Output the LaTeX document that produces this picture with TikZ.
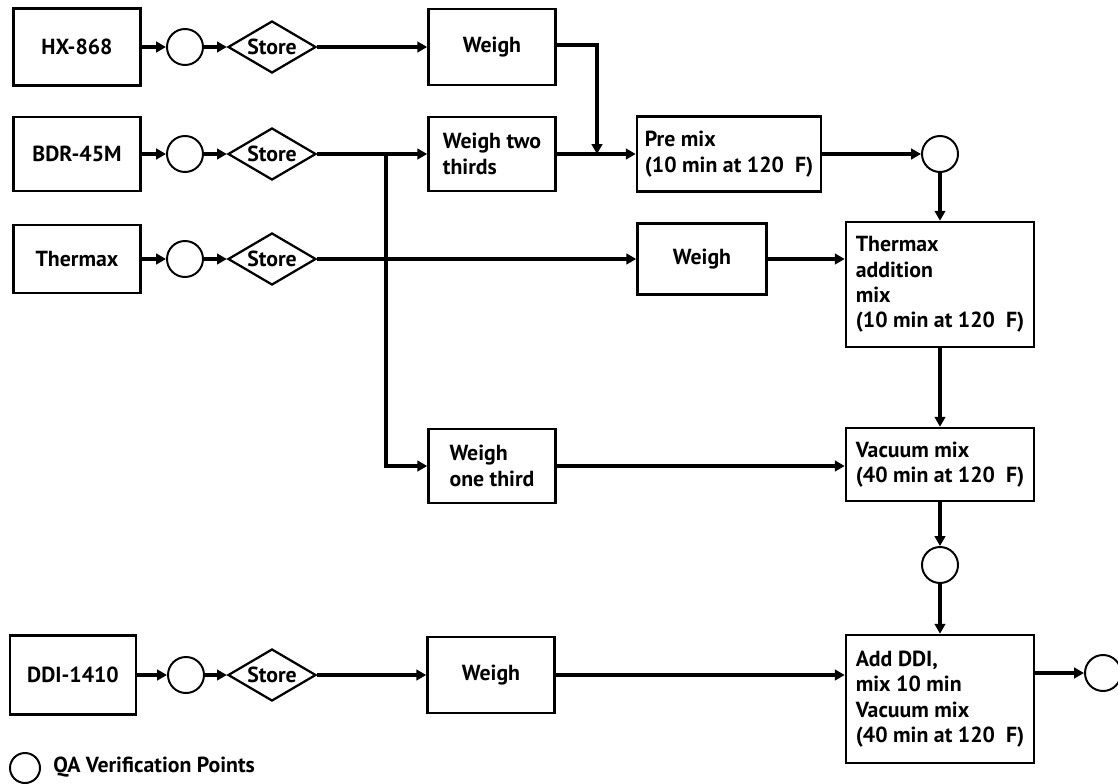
\documentclass[tikz,border=0pt]{standalone}
\usepackage{fontspec}
\setmainfont{PT Sans}
\usetikzlibrary{arrows.meta,shapes.geometric,calc}

\tikzset{
  lbl/.style={font=\fontsize{15.5}{18.1}\selectfont\bfseries},
  box/.style={lbl,draw,line width=1.8pt,inner sep=0pt,align=left},
  src/.style={box,minimum width=3.175cm},
  wgh/.style={box,minimum width=3.175cm},
  mix/.style={box,minimum width=4.7cm},
  qa/.style={circle,draw,line width=1.4pt,minimum size=0.9cm,inner sep=0pt},
  store/.style={lbl,diamond,draw,line width=1.6pt,minimum width=2.2cm,minimum height=1.3cm,inner sep=0pt,aspect=1.7},
  flow/.style={line width=2.7pt,-{Triangle[length=7pt,width=7.5pt]}}
}

\begin{document}
\begin{tikzpicture}[x=0.025cm,y=-0.025cm]
\useasboundingbox (0,0) rectangle (1118,783);

\node[src,minimum height=1.925cm] (hx) at (77,47) {HX-868};
\node[src,minimum height=1.85cm] (bdr) at (77,154) {BDR-45M};
\node[src,minimum height=1.7cm] (thx) at (77,259) {Thermax};
\node[src,minimum height=1.975cm,minimum width=3.15cm] (ddi) at (73,675) {DDI-1410};

\node[qa] (qa1) at (185,47) {};
\node[qa] (qa2) at (185,154) {};
\node[qa] (qa3) at (185,259) {};
\node[qa] (qa4) at (186,675) {};

\node[store] (st1) at (272,47) {Store};
\node[store] (st2) at (272,154) {Store};
\node[store] (st3) at (272,259) {Store};
\node[store] (st4) at (272,675) {Store};

\node[wgh,minimum height=1.9cm] (wgh1) at (492,47) {Weigh};
\node[wgh,minimum height=1.85cm] (wgh2) at (492,154) {Weigh two\\thirds};
\node[wgh,minimum height=1.85cm] (wgh3) at (492,466) {Weigh\\one third};
\node[wgh,minimum height=1.9cm] (wgh4) at (491,675) {Weigh};
\node[box,minimum width=3.225cm,minimum height=1.775cm] (wghT) at (702,259) {Weigh};

\node[box,minimum width=4.6cm,minimum height=1.875cm] (pre) at (729,154) {Pre mix\\(10 min at 120~~F)};
\node[qa] (qa5) at (940,154) {};
\node[mix,minimum height=3.125cm] (tam) at (940,284.5) {Thermax\\addition\\mix\\(10 min at 120~~F)};
\node[mix,minimum height=1.825cm] (vac) at (940,464.5) {Vacuum mix\\(40 min at 120~~F)};
\node[qa] (qa6) at (940,565) {};
\node[mix,minimum height=3.2cm] (add) at (940,699) {Add DDI,\\mix 10 min\\Vacuum mix\\(40 min at 120~~F)};
\node[qa] (qa7) at (1103,673) {};

\coordinate (drop) at (597,154);
\coordinate (fork) at (386,154);

\draw[flow] (hx) -- (qa1);
\draw[flow] (qa1) -- (st1);
\draw[flow] (st1) -- (wgh1);
\draw[flow] (wgh1.east |- 0,45) -| (drop);

\draw[flow] (bdr) -- (qa2);
\draw[flow] (qa2) -- (st2);
\draw[flow] (st2) -- (wgh2);
\draw[flow] (fork) |- (wgh3);
\draw[flow] (wgh2) -- (pre);
\draw[flow] (pre) -- (qa5);
\draw[flow] (qa5) -- (tam);

\draw[flow] (thx) -- (qa3);
\draw[flow] (qa3) -- (st3);
\draw[flow] (st3) -- (wghT);
\draw[flow] (wghT) -- (wghT -| tam.west);

\draw[flow] (tam) -- (vac);
\draw[flow] (wgh3) -- (wgh3 -| vac.west);
\draw[flow] (vac) -- (qa6);
\draw[flow] (qa6) -- (add);

\draw[flow] (ddi) -- (qa4);
\draw[flow] (qa4) -- (st4);
\draw[flow] (st4) -- (wgh4);
\draw[flow] (wgh4) -- (wgh4 -| add.west);
\draw[flow] (add.east |- qa7) -- (qa7);

\node[qa,minimum size=0.75cm] (key) at (25,768) {};
\node[lbl,anchor=west,inner sep=0pt] (keytxt) at (53,767) {QA Verification Points};

\end{tikzpicture}
\end{document}
